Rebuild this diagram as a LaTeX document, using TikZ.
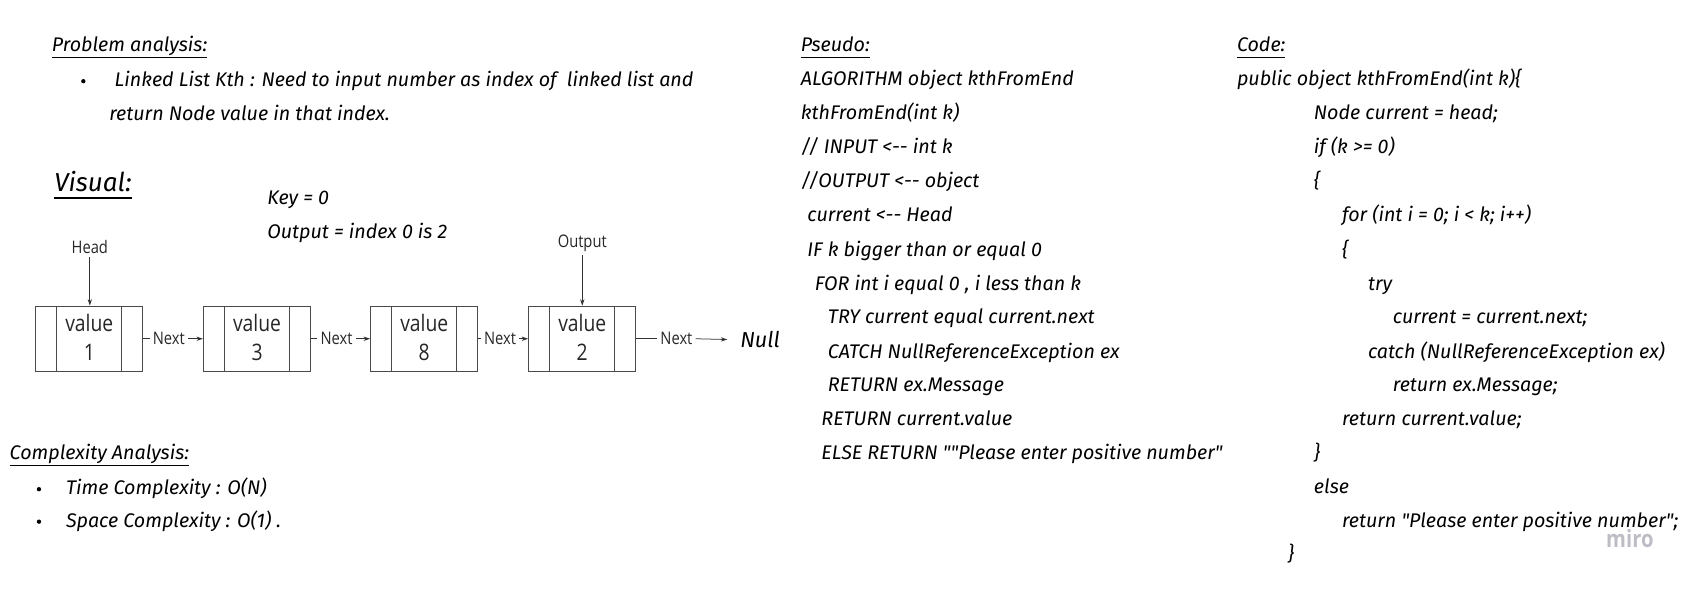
\documentclass[tikz,border=0pt]{standalone}
\usepackage{fontspec}
\usetikzlibrary{arrows.meta}
\setmainfont{Fira Sans}
\newfontfamily\hand{Fira Sans}[Ligatures=TeXOff]
\newfontfamily\labfont{Open Sans}[FakeStretch=0.85]
\definecolor{boxline}{HTML}{4A4A4A}
\definecolor{miro}{HTML}{BDBDC6}
\tikzset{
  hw/.style={font=\hand\itshape\fontsize{18.2}{21}\selectfont, anchor=base west, inner sep=0pt, outer sep=0pt},
  hdr/.style={hw},
  vishdr/.style={font=\hand\itshape\fontsize{24}{27}\selectfont, anchor=base west, inner sep=0pt},
  lbl/.style={font=\labfont\fontsize{16}{18}\selectfont, inner sep=0pt, outer sep=3pt, text=black!85},
  cell/.style={draw=boxline, line width=1.1pt, minimum width=99pt, minimum height=60pt, inner sep=0pt},
  valtxt/.style={font=\labfont\fontsize{21}{27}\selectfont, align=center, inner sep=0pt, text=black!85},
  arr/.style={draw=black!80, line width=0.7pt, -{Stealth[length=6pt,width=4pt]}},
  ln/.style={draw=black!80, line width=0.7pt},
  uline/.style={line width=1.4pt},
  bul/.style={circle, fill=black, inner sep=0pt, minimum size=4pt}
}
\newcommand{\cellbox}[3]{%
  \node[cell] (#1) at #2 {};
  \draw[boxline, line width=1.1pt] ([xshift=20pt]#1.north west) -- ([xshift=20pt]#1.south west);
  \draw[boxline, line width=1.1pt] ([xshift=-20pt]#1.north east) -- ([xshift=-20pt]#1.south east);
  \node[valtxt] (#1t) at ([yshift=1pt]#1.center) {value\\#3};
}
\begin{document}
\begin{tikzpicture}[x=1pt,y=-1pt]
\useasboundingbox (0,0) rectangle (1568,544);

% ---------- Problem analysis ----------
\node[hdr] (pa) at (48,48) {Problem analysis:};
\draw[uline] ([yshift=-5pt]pa.base west) -- ([yshift=-5pt]pa.base east);
\node[bul] (b1d) at (77,75) {};
\node[hw] (pa1) at (106,80) {Linked List Kth : Need to input number as index of\ \ linked list and};
\node[hw] (pa2) at (101,111) {return Node value in that index.};

% ---------- Visual ----------
\node[vishdr] (vis) at (50,177) {Visual:};
\draw[line width=2.2pt] ([yshift=-6pt]vis.base west) -- ([yshift=-6pt]vis.base east);
\node[hw] (key) at (247,189) {Key = 0};
\node[hw] (outl) at (247,220) {Output = index 0 is 2};

\cellbox{c1}{(82.5,313)}{1}
\cellbox{c2}{(237.5,313)}{3}
\cellbox{c3}{(392,313)}{8}
\cellbox{c4}{(538,313)}{2}

\node[lbl] (head) at (83,228) {Head};
\draw[arr] (head.south) -- (head.south |- c1.north);
\node[lbl] (outp) at (538,225) {Output};
\draw[arr] (outp.south) -- (outp.south |- c4.north);

\node[lbl] (n1) at (156,313) {Next};
\draw[ln] (c1.east) -- (n1.west);
\draw[arr] (n1.east) -- (c2.west);
\node[lbl] (n2) at (311,313) {Next};
\draw[ln] (c2.east) -- (n2.west);
\draw[arr] (n2.east) -- (c3.west);
\node[lbl] (n3) at (462,313) {Next};
\draw[ln] (c3.east) -- (n3.west);
\draw[arr] (n3.east) -- (c4.west);
\node[lbl] (n4) at (625,313) {Next};
\draw[ln] (c4.east) -- (n4.west);
\node[hw, anchor=west, font=\hand\itshape\fontsize{20}{22}\selectfont] (null) at (684,314) {Null};
\draw[arr, shorten >=12pt] (n4.east) -- (null.west);

% ---------- Complexity ----------
\node[hdr] (ca) at (9,425) {Complexity Analysis:};
\draw[uline] ([yshift=-5pt]ca.base west) -- ([yshift=-5pt]ca.base east);
\node[bul] (b2d) at (36,452) {};
\node[hw] (ca1) at (61,457) {Time Complexity : O(N)};
\node[bul] (b3d) at (36,482) {};
\node[hw] (ca2) at (61,487) {Space Complexity : O(1) .};

% ---------- Pseudo ----------
\node[hdr] (ps) at (740,48) {Pseudo:};
\draw[uline] ([yshift=-5pt]ps.base west) -- ([yshift=-5pt]ps.base east);
\node[hw] (p1) at (740,79) {ALGORITHM object kthFromEnd};
\node[hw] (p2) at (740,110) {kthFromEnd(int k)};
\node[hw] (p3) at (740,142) {// INPUT <-- int k};
\node[hw] (p4) at (740,173) {//OUTPUT <-- object};
\node[hw] (p5) at (746,205) {current <-- Head};
\node[hw] (p6) at (746,237) {IF k bigger than or equal 0};
\node[hw] (p7) at (753,268) {FOR int i equal 0 , i less than k};
\node[hw] (p8) at (765,299) {TRY current equal current.next};
\node[hw] (p9) at (765,331) {CATCH NullReferenceException ex};
\node[hw] (p10) at (765,362) {RETURN ex.Message};
\node[hw] (p11) at (759,393) {RETURN current.value};
\node[hw] (p12) at (759,425) {ELSE RETURN ""Please enter positive number"};

% ---------- Code ----------
\node[hdr] (cd) at (1143,48) {Code:};
\draw[uline] ([yshift=-5pt]cd.base west) -- ([yshift=-5pt]cd.base east);
\node[hw] (k1) at (1143,79) {public object kthFromEnd(int k)\{};
\node[hw] (k2) at (1214,110) {Node current = head;};
\node[hw] (k3) at (1214,142) {if (k >= 0)};
\node[hw] (k4) at (1214,173) {\{};
\node[hw] (k5) at (1240,205) {for (int i = 0; i < k; i++)};
\node[hw] (k6) at (1240,237) {\{};
\node[hw] (k7) at (1264,268) {try};
\node[hw] (k8) at (1287,299) {current = current.next;};
\node[hw] (k9) at (1264,331) {catch (NullReferenceException ex)};
\node[hw] (k10) at (1287,362) {return ex.Message;};
\node[hw] (k11) at (1240,393) {return current.value;};
\node[hw] (k12) at (1214,425) {\}};
\node[hw] (k13) at (1214,456) {else};
\node[hw] (k14) at (1240,487) {return "Please enter positive number";};
\node[hw] (k15) at (1190,518) {\}};

\node[font=\labfont\bfseries\fontsize{22}{24}\selectfont, text=miro, anchor=center, inner sep=0pt] (wm) at (1506,498) {miro};
\end{tikzpicture}
\end{document}
